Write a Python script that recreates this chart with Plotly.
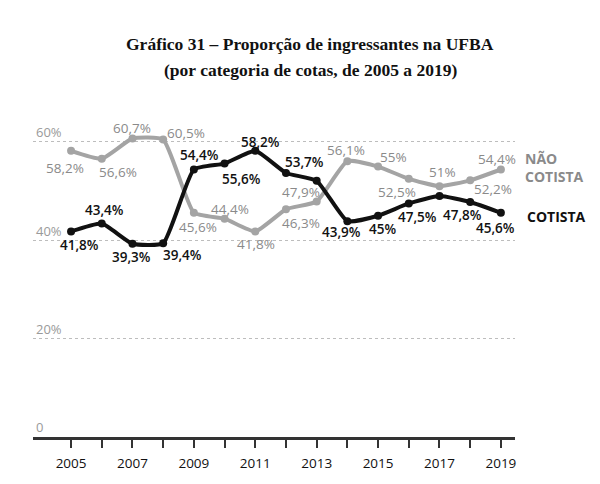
import plotly.graph_objects as go

# dados do gráfico
anos = list(range(2005, 2020))
nao_cotista = [58.2, 56.6, 60.7, 60.5, 45.6, 44.4, 41.8, 46.3, 47.9, 56.1, 55.0, 52.5, 51.0, 52.2, 54.4]
cotista = [41.8, 43.4, 39.3, 39.4, 54.4, 55.6, 58.2, 53.7, 52.1, 43.9, 45.0, 47.5, 49.0, 47.8, 45.6]
# quais pontos recebem rótulo
rotulo_nao = [True] * 15
rotulo_cot = [True] * 15
rotulo_cot[8] = False
rotulo_cot[12] = False

# deslocamento dos rótulos em px (xshift, yshift)
desl_nao = [(-6, -17), (16, -13), (0, 11), (23, 7), (4, -14), (5, 10), (1, -13), (15, -14),
            (-16, 9), (-1, 11), (15, 10), (-12, -13), (3, 14), (23, -9), (-4, 11)]
desl_cot = [(8, -14), (3, 14), (-1, -13), (19, -12), (6, 15), (17, -15), (5, 9), (19, 11),
            (0, 0), (-6, -11), (4, -13), (9, -14), (0, 0), (-8, -13), (-5, -15)]

CINZA = '#a4a4a4'
CINZA_TXT = '#8a8a8a'
PRETO = '#111111'
FONTE = 'Open Sans'


def fmt(v):
    s = f"{v:.1f}".replace('.', ',')
    if s.endswith(',0'):
        s = s[:-2]
    return s + '%'


fig = go.Figure()

for y, cor in [(nao_cotista, CINZA), (cotista, PRETO)]:
    fig.add_trace(go.Scatter(
        x=anos, y=y, mode='lines+markers',
        line=dict(color=cor, width=4, shape='spline', smoothing=0.45),
        marker=dict(color=cor, size=8),
        hoverinfo='x+y', showlegend=False
    ))

anotacoes = []
for serie, mostra, desl, cor, peso in [
    (nao_cotista, rotulo_nao, desl_nao, CINZA_TXT, 500),
    (cotista, rotulo_cot, desl_cot, PRETO, 600),
]:
    for ano, v, m, (dx, dy) in zip(anos, serie, mostra, desl):
        if not m:
            continue
        anotacoes.append(dict(
            x=ano, y=v, text=fmt(v), showarrow=False,
            xshift=dx, yshift=dy,
            font=dict(family=FONTE, size=13.5, color=cor, weight=peso)
        ))

# nomes das séries no fim das linhas
anotacoes.append(dict(
    x=anos[-1], y=nao_cotista[-1], text='NÃO<br>COTISTA', showarrow=False,
    xanchor='left', align='left', xshift=22, yshift=2,
    font=dict(family=FONTE, size=14, color=CINZA_TXT, weight=700)
))
anotacoes.append(dict(
    x=anos[-1], y=cotista[-1], text='COTISTA', showarrow=False,
    xanchor='left', align='left', xshift=24, yshift=-4,
    font=dict(family=FONTE, size=14, color=PRETO, weight=700)
))

# título (duas linhas)
for txt, py in [('Gráfico 31 – Proporção de ingressantes na UFBA', 44),
                ('(por categoria de cotas, de 2005 a 2019)', 70)]:
    anotacoes.append(dict(
        x=(310 - 33) / 482, xref='paper', y=(439 - py) / 329, yref='paper',
        text=txt, showarrow=False, xanchor='center', yanchor='middle',
        font=dict(family='Liberation Serif', size=17.5, color='#111111', weight=700)
    ))

# a página tem margem de 8px no body: figura um pouco menor
fig.update_layout(
    width=592, height=476,
    margin=dict(l=25, r=85, t=102, b=45),
    plot_bgcolor='white', paper_bgcolor='white',
    annotations=anotacoes,
    showlegend=False,
)

fig.update_xaxes(
    range=[2003.76, 2019.46],
    tickvals=anos, ticktext=[str(a) if a % 2 == 1 else '' for a in anos],
    ticks='outside', ticklen=8, tickwidth=2, tickcolor='#333333',
    ticklabelstandoff=4,
    showline=True, linecolor='#333333', linewidth=3,
    showgrid=False, zeroline=False,
    tickfont=dict(family=FONTE, size=13.5, color='#111111'),
)
fig.update_yaxes(
    range=[0, 66.5],
    tickvals=[0, 20, 40, 60], ticktext=['0', '20%', '40%', '60%'],
    ticklabelposition='inside top',
    showgrid=True, gridcolor='#bdbdbd', griddash='dot', gridwidth=1,
    zeroline=False, showline=False, ticks='',
    tickfont=dict(family=FONTE, size=13, color='#9a9a9a'),
)

fig.write_html("out.html")
